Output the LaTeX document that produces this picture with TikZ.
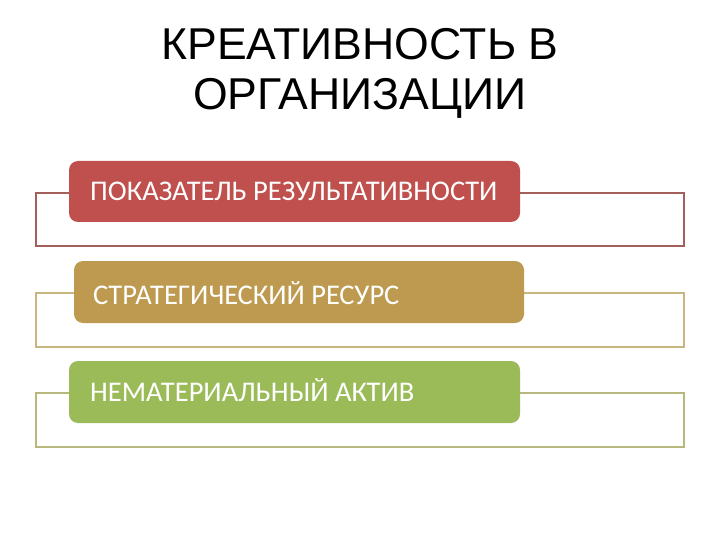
\documentclass[tikz,border=0pt]{standalone}
\usepackage{fontspec}
\setmainfont{Liberation Sans}
\newfontfamily\boxfont{Carlito}
\definecolor{redbox}{HTML}{C0504D}
\definecolor{goldbox}{HTML}{BD9A4F}
\definecolor{greenbox}{HTML}{9BBB59}
\definecolor{redframe}{HTML}{A35F5B}
\definecolor{goldframe}{HTML}{C8B67E}
\definecolor{greenframe}{HTML}{B8B87E}
\begin{document}
\begin{tikzpicture}[x=1pt,y=-1pt,
  frame/.style={line width=2pt},
  itembox/.style={rounded corners=9pt, draw=none},
  itemtext/.style={anchor=west, text=white, font=\boxfont\fontsize{28.5}{32}\selectfont, inner sep=0pt}]
\useasboundingbox (0,0) rectangle (720,540);
\fill[white] (0,0) rectangle (720,540);
\node[font=\fontsize{44.6}{50}\selectfont, align=center] (title) at (360,73) {КРЕАТИВНОСТЬ В\\ОРГАНИЗАЦИИ};
% frames
\draw[frame, redframe] (36,193) rectangle (684,246);
\draw[frame, goldframe] (36,293) rectangle (684,347);
\draw[frame, greenframe] (36,393) rectangle (684,447);
% boxes
\fill[itembox, redbox] (69,161) rectangle (520,222);
\fill[itembox, goldbox] (74,261) rectangle (524,323);
\fill[itembox, greenbox] (69,361) rectangle (520,423);
\node[itemtext] (t1) at (90,191) {ПОКАЗАТЕЛЬ РЕЗУЛЬТАТИВНОСТИ};
\node[itemtext] (t2) at (93,293) {СТРАТЕГИЧЕСКИЙ РЕСУРС};
\node[itemtext] (t3) at (90,390) {НЕМАТЕРИАЛЬНЫЙ АКТИВ};
\end{tikzpicture}
\end{document}
